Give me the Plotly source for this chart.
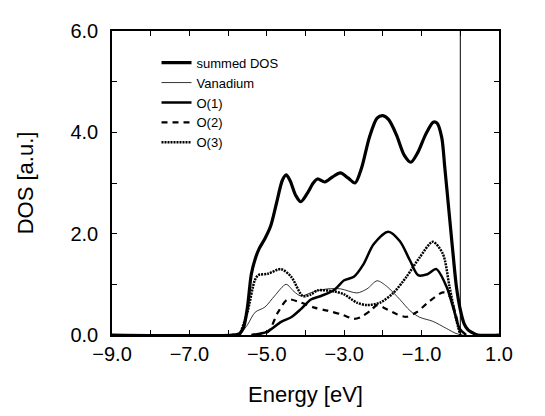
import plotly.graph_objects as go

# Energy [eV] and DOS [a.u.] values
sum_E = [-9.0, -5.9, -5.7, -5.6, -5.5, -5.4, -5.3, -5.2, -5.05, -4.9, -4.75, -4.6, -4.5, -4.4, -4.25, -4.12,
         -3.95, -3.8, -3.69, -3.5, -3.3, -3.1, -2.9, -2.72, -2.55, -2.35, -2.15, -2.0, -1.85, -1.65, -1.45,
         -1.28, -1.1, -0.9, -0.7, -0.6, -0.48, -0.4, -0.3, -0.2, -0.1, 0.0, 0.1, 0.2, 0.3, 0.45, 1.0]
sum_D = [0.0, 0.0, 0.03, 0.15, 0.55, 1.2, 1.5, 1.7, 1.9, 2.15, 2.6, 3.05, 3.16, 3.05, 2.75, 2.63,
         2.8, 3.0, 3.08, 3.02, 3.12, 3.2, 3.1, 3.0, 3.3, 3.9, 4.28, 4.33, 4.25, 3.95, 3.55,
         3.41, 3.6, 3.95, 4.2, 4.18, 3.9, 3.3, 2.5, 1.7, 0.95, 0.5, 0.22, 0.1, 0.05, 0.0, 0.0]

v_E = [-5.7, -5.5, -5.3, -5.05, -4.8, -4.5, -4.3, -4.12, -3.77, -3.43, -3.09, -2.67, -2.41, -2.15,
       -1.9, -1.56, -1.3, -1.05, -0.71, -0.36, -0.11, 0.06]
v_D = [0.0, 0.2, 0.45, 0.55, 0.77, 1.0, 0.86, 0.77, 0.86, 0.91, 0.91, 0.83, 0.91, 1.07,
       0.96, 0.70, 0.48, 0.35, 0.27, 0.13, 0.03, 0.0]

o1_E = [-5.4, -5.0, -4.63, -4.37, -4.12, -3.86, -3.6, -3.26, -3.0, -2.75, -2.5, -2.24, -1.86, -1.56,
        -1.3, -1.09, -0.85, -0.62, -0.36, -0.15, -0.02, 0.15]
o1_D = [0.0, 0.06, 0.26, 0.35, 0.51, 0.70, 0.77, 0.89, 1.08, 1.15, 1.40, 1.79, 2.04, 1.85,
        1.47, 1.18, 1.2, 1.30, 0.96, 0.45, 0.13, 0.0]

o2_E = [-5.3, -4.97, -4.71, -4.46, -4.12, -3.77, -3.43, -3.09, -2.75, -2.58, -2.32, -2.15, -1.98,
        -1.64, -1.39, -1.13, -0.79, -0.45, -0.28, -0.11, 0.0, 0.1]
o2_D = [0.0, 0.06, 0.45, 0.70, 0.64, 0.54, 0.48, 0.41, 0.32, 0.35, 0.48, 0.59, 0.54,
        0.41, 0.36, 0.45, 0.67, 0.84, 0.77, 0.38, 0.06, 0.0]

o3_E = [-5.7, -5.5, -5.31, -5.22, -4.97, -4.63, -4.37, -4.07, -3.86, -3.69, -3.26, -3.0, -2.67,
        -2.41, -2.07, -1.73, -1.39, -1.05, -0.71, -0.45, -0.28, -0.11, 0.0]
o3_D = [0.0, 0.45, 1.08, 1.18, 1.21, 1.30, 1.15, 0.77, 0.80, 0.88, 0.86, 0.80, 0.64,
        0.59, 0.64, 0.83, 1.15, 1.53, 1.84, 1.60, 0.96, 0.32, 0.0]

fermi_E = 0.0
x_ticks = [-9, -8, -7, -6, -5, -4, -3, -2, -1, 0, 1]
x_labels = ["\u22129.0", "", "\u22127.0", "", "\u22125.0", "", "\u22123.0", "", "\u22121.0", "", "1.0"]
y_ticks = [0, 1, 2, 3, 4, 5, 6]
y_labels = ["0.0", "", "2.0", "", "4.0", "", "6.0"]

FONT = "Liberation Sans, Arial"

fig = go.Figure()
fig.add_trace(go.Scatter(x=sum_E, y=sum_D, name="summed DOS", mode="lines",
                         line=dict(color="black", width=3.2, shape="spline", smoothing=0.8)))
fig.add_trace(go.Scatter(x=v_E, y=v_D, name="Vanadium", mode="lines",
                         line=dict(color="black", width=0.8, shape="spline", smoothing=0.8)))
fig.add_trace(go.Scatter(x=o1_E, y=o1_D, name="O(1)", mode="lines",
                         line=dict(color="black", width=2.5, shape="spline", smoothing=0.8)))
fig.add_trace(go.Scatter(x=o2_E, y=o2_D, name="O(2)", mode="lines",
                         line=dict(color="black", width=2.2, dash="6px,5px", shape="spline", smoothing=0.8)))
fig.add_trace(go.Scatter(x=o3_E, y=o3_D, name="O(3)", mode="lines",
                         line=dict(color="black", width=2.5, dash="2px,1px", shape="spline", smoothing=0.8)))

fig.add_shape(type="line", x0=fermi_E, x1=fermi_E, y0=0, y1=1, xref="x", yref="paper",
              line=dict(color="black", width=1))

axis_common = dict(showline=True, linecolor="black", linewidth=1.5, mirror="ticks",
                   ticks="inside", ticklen=5, tickwidth=1.2, tickcolor="black",
                   showgrid=False, zeroline=False,
                   tickfont=dict(family=FONT, size=20, color="black"))

fig.update_layout(
    width=545, height=416,
    margin=dict(l=104, r=54, t=14, b=89),
    paper_bgcolor="white", plot_bgcolor="white",
    xaxis=dict(range=[-9, 1], tickmode="array", tickvals=x_ticks, ticktext=x_labels,
               title=dict(text="Energy [eV]", font=dict(family=FONT, size=22, color="black"),
                          standoff=23),
               **axis_common),
    yaxis=dict(range=[0, 6], tickmode="array", tickvals=y_ticks, ticktext=y_labels,
               ticklabelstandoff=8,
               title=dict(text="DOS [a.u.]", font=dict(family=FONT, size=22, color="black"),
                          standoff=31),
               **axis_common),
    showlegend=True,
    legend=dict(x=0.115, y=0.945, xanchor="left", yanchor="top", bgcolor="rgba(0,0,0,0)",
                font=dict(family=FONT, size=13, color="black"),
                tracegroupgap=0, itemwidth=30),
)

fig.write_html("out.html")
